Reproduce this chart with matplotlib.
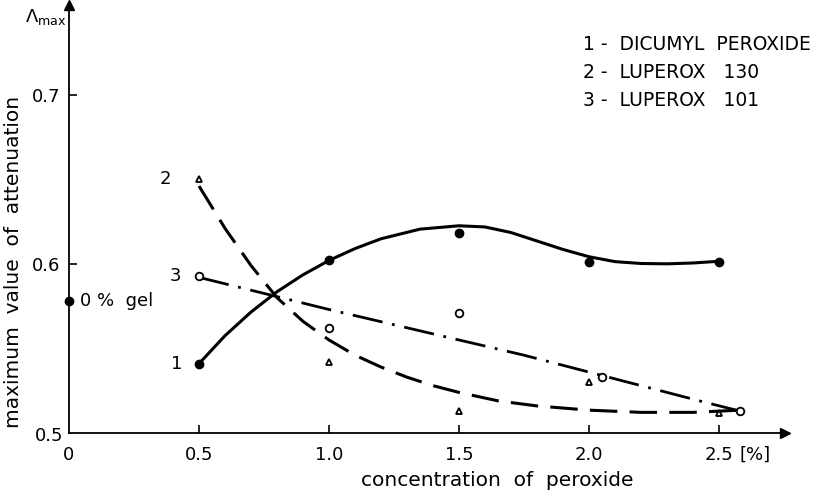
import matplotlib
matplotlib.use("Agg")
import matplotlib.pyplot as plt

# measured points
conc = [0.5, 1.0, 1.5, 2.0, 2.5]
dicumyl = [0.541, 0.602, 0.618, 0.601, 0.601]
lup130 = [0.650, 0.542, 0.513, 0.530, 0.512]
lup101_x = [0.5, 1.0, 1.5, 2.05, 2.58]
lup101 = [0.593, 0.562, 0.571, 0.533, 0.513]
gel_x, gel_y = 0.0, 0.578

# hand-drawn fitted curves
c1_x = [0.5, 0.6, 0.7, 0.8, 0.9, 1.0, 1.1, 1.2, 1.35, 1.5, 1.6, 1.7, 1.8, 1.9,
        2.0, 2.1, 2.2, 2.3, 2.4, 2.5]
c1_y = [0.541, 0.5575, 0.5715, 0.5835, 0.5935, 0.602, 0.609, 0.6148, 0.6205, 0.6225,
        0.6218, 0.6185, 0.6135, 0.6085, 0.6042, 0.6013, 0.6002, 0.6, 0.6005, 0.6015]
c2_x = [0.5, 0.6, 0.7, 0.8, 0.9, 1.0, 1.1, 1.2, 1.3, 1.4, 1.5, 1.65, 1.8, 2.0,
        2.2, 2.4, 2.58]
c2_y = [0.646, 0.621, 0.599, 0.580, 0.566, 0.555, 0.546, 0.539, 0.533, 0.528,
        0.524, 0.519, 0.516, 0.5135, 0.5122, 0.5122, 0.5135]
c3_x = [0.5, 0.79, 1.0, 1.25, 1.5, 1.75, 2.0, 2.25, 2.45, 2.58]
c3_y = [0.592, 0.581, 0.573, 0.564, 0.555, 0.546, 0.536, 0.526, 0.518, 0.513]

xticks = [0.5, 1.0, 1.5, 2.0, 2.5]
xtick_labels = ["0.5", "1.0", "1.5", "2.0", "2.5"]
yticks = [0.6, 0.7]
ytick_labels = ["0.6", "0.7"]
legend_lines = ["1 -  DICUMYL  PEROXIDE", "2 -  LUPEROX   130", "3 -  LUPEROX   101"]

W, H = 826, 493
fig = plt.figure(figsize=(W / 100, H / 100), dpi=100)
ax = fig.add_axes([69 / W, 60 / H, (785 - 69) / W, (433 - 5) / H])
ax.set_xlim(0, 2.754)
ax.set_ylim(0.5, 0.753)

# curves
ax.plot(c1_x, c1_y, color="black", lw=2.2, solid_capstyle="round", solid_joinstyle="round")
ax.plot(c2_x, c2_y, color="black", lw=2.2, dashes=(9, 4))
ax.plot(c3_x, c3_y, color="black", lw=2.0, dashes=(11, 3.5, 1, 3.5))

# points
ax.plot(conc, dicumyl, "o", color="black", ms=6)
ax.plot(conc, lup130, "^", mfc="white", mec="black", mew=1.3, ms=5)
ax.plot(lup101_x, lup101, "o", mfc="white", mec="black", mew=1.3, ms=5.5)
ax.plot([gel_x], [gel_y], "o", color="black", ms=6, clip_on=False, zorder=5)

# axes styling
for s in ["top", "right"]:
    ax.spines[s].set_visible(False)
ax.spines["left"].set_linewidth(1.3)
ax.spines["bottom"].set_linewidth(1.3)
ax.plot(1, 0, ">", color="black", ms=7, transform=ax.transAxes, clip_on=False)
ax.plot(0, 1, "^", color="black", ms=7, transform=ax.transAxes, clip_on=False)

ax.set_xticks(xticks)
ax.set_xticklabels(xtick_labels, fontsize=13)
ax.set_yticks(yticks)
ax.set_yticklabels(ytick_labels, fontsize=13)
ax.tick_params(axis="x", direction="in", length=6, width=1.2, pad=9)
ax.tick_params(axis="y", direction="in", length=6, width=1.2, pad=6)
ax.annotate("0", (0, 0.5), xytext=(0, -9), textcoords="offset points",
            ha="center", va="top", fontsize=13)
ax.annotate("0.5", (0, 0.5), xytext=(-4, -2), textcoords="offset points",
            ha="right", va="center", fontsize=13)
ax.annotate("[%]", (2.5, 0.5), xytext=(15, -9), textcoords="offset points",
            ha="left", va="top", fontsize=13)

fig.text(497 / W, 1 - 481 / H, "concentration  of  peroxide", fontsize=14.5,
         ha="center", va="center")
fig.text(14 / W, 1 - 262 / H, "maximum  value  of  attenuation", fontsize=14.5,
         ha="center", va="center", rotation=90)
fig.text(25 / W, 1 - 17 / H, r"$\Lambda_{\mathrm{max}}$", fontsize=13,
         ha="left", va="center")

# curve labels
ax.annotate("2", (0.5, 0.650), xytext=(-20, 0), textcoords="offset points",
            ha="right", va="center", fontsize=13)
ax.annotate("3", (0.5, 0.593), xytext=(-13, 0), textcoords="offset points",
            ha="right", va="center", fontsize=13)
ax.annotate("1", (0.5, 0.541), xytext=(-12, 0), textcoords="offset points",
            ha="right", va="center", fontsize=13)
ax.annotate("0 %  gel", (0, 0.578), xytext=(8, 0), textcoords="offset points",
            ha="left", va="center", fontsize=13)

for i, t in enumerate(legend_lines):
    fig.text(583 / W, 1 - (44 + 28 * i) / H, t, fontsize=13.5, ha="left", va="center")

fig.savefig("out.png", dpi=100)
